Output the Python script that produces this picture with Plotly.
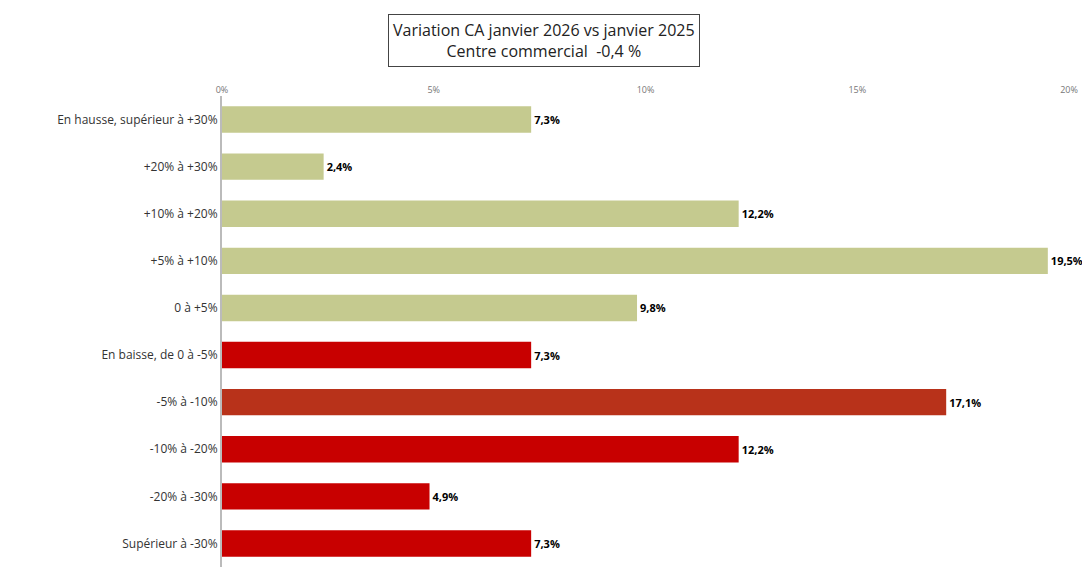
import plotly.graph_objects as go

categories = ["En hausse, supérieur à +30%", "+20% à +30%", "+10% à +20%", "+5% à +10%", "0 à +5%",
              "En baisse, de 0 à -5%", "-5% à -10%", "-10% à -20%", "-20% à -30%", "Supérieur à -30%"]
values = [7.3, 2.4, 12.2, 19.5, 9.8, 7.3, 17.1, 12.2, 4.9, 7.3]
colors = ["#C5CA8F"] * 5 + ["#C80000", "#B8321A", "#C80000", "#C80000", "#C80000"]
tick_vals = [0, 5, 10, 15, 20]
tick_text = ["0%", "5%", "10%", "15%", "20%"]

fig = go.Figure(go.Bar(
    y=categories, x=values, orientation="h",
    marker=dict(color=colors, line=dict(width=0)),
    width=0.56,
    text=[f"{v:.1f}%".replace(".", ",") for v in values],
    textposition="outside",
    textfont=dict(family="Open Sans", size=11, color="black", weight="bold"),
    cliponaxis=False,
))

fig.update_yaxes(autorange="reversed", tickfont=dict(family="Open Sans", size=12, color="#333"),
                 ticks="", showline=True, linecolor="#bbb", linewidth=2)
fig.update_xaxes(range=[0, 20], side="top", tickvals=tick_vals, ticktext=tick_text,
                 tickfont=dict(family="Open Sans", size=9, color="#777"),
                 showgrid=False, zeroline=False)

fig.update_layout(
    width=1090, height=569,
    paper_bgcolor="white", plot_bgcolor="white",
    margin=dict(l=214, r=29, t=88, b=10),
    bargap=0.44,
    showlegend=False,
)
fig.add_annotation(
    x=0.38, y=1.175, xref="paper", yref="paper", xanchor="center", yanchor="top",
    text="Variation CA janvier 2026 vs janvier 2025<br>Centre commercial  -0,4 %",
    showarrow=False, font=dict(family="Open Sans", size=16, color="#222"),
    bordercolor="#444", borderwidth=1, borderpad=4, bgcolor="white",
)
fig.write_html("out.html")
